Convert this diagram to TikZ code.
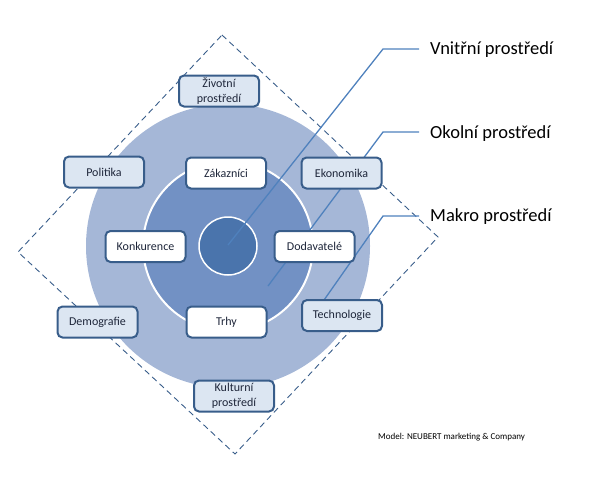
\documentclass[tikz,border=0pt]{standalone}
\usepackage{fontspec}
\setmainfont{Carlito}

\definecolor{ringouter}{RGB}{165,183,215}
\definecolor{ringmiddle}{RGB}{114,145,196}
\definecolor{ringinner}{RGB}{74,116,172}
\definecolor{boxfill}{RGB}{220,230,242}
\definecolor{boxline}{RGB}{56,93,138}
\definecolor{calloutline}{RGB}{79,129,189}
\definecolor{boxtext}{RGB}{30,38,58}

\tikzset{
    factor/.style={draw=boxline, line width=2pt, rounded corners=5pt,
        minimum width=80pt, minimum height=31pt, inner sep=0pt,
        align=center, text=boxtext, font=\fontsize{12}{15}\selectfont},
    macrobox/.style={factor, fill=boxfill},
    microbox/.style={factor, fill=white},
    ring/.style={circle, inner sep=0pt},
    callout/.style={draw=calloutline, line width=1.3pt},
    layerlabel/.style={anchor=base west, inner sep=0pt,
        font=\fontsize{18.5}{20}\selectfont}
}

\begin{document}
\begin{tikzpicture}[x=1pt, y=-1pt]
        \useasboundingbox (0, 0) rectangle (593, 477);
        \pgfmathsetmacro\cx{228};
        \pgfmathsetmacro\cy{246};

        % dashed frame
        \draw[boxline, line width=0.9pt, dash pattern=on 6pt off 4pt]
            (222, 35) -- (438, 237) -- (235, 454) -- (18, 252) -- cycle;

        % rings
        \node[ring, fill=ringouter, minimum size=284pt] (outer ring)
            at (\cx, \cy) {};
        \node[ring, fill=ringmiddle, draw=white, line width=2pt,
            minimum size=170pt] (middle ring) at (\cx, \cy) {};
        \node[ring, fill=ringinner, draw=white, line width=1.5pt,
            minimum size=58pt] (core) at (\cx, \cy) {};

        % labels on the right
        \node[layerlabel] (vnitrni) at (430, 54.5) {Vnitřní prostředí};
        \node[layerlabel] (okolni) at (430, 138) {Okolní prostředí};
        \node[layerlabel] (makro) at (430, 221) {Makro prostředí};

        \coordinate (vnitrni start) at (228, 245);
        \coordinate (vnitrni bend) at (383, 49);
        \coordinate (vnitrni end) at (419, 49);
        \draw[callout] (vnitrni start) -- (vnitrni bend) -- (vnitrni end);

        \coordinate (okolni start) at (268, 286);
        \coordinate (okolni bend) at (383, 132);
        \coordinate (okolni end) at (419, 132);
        \draw[callout] (okolni start) -- (okolni bend) -- (okolni end);

        \coordinate (makro start) at (310, 320);
        \coordinate (makro bend) at (383, 216);
        \coordinate (makro end) at (419, 216);
        \draw[callout] (makro start) -- (makro bend) -- (makro end);

        % okolni boxes
        \node[microbox] (zakaznici) at (226, 173) {Zákazníci};
        \node[microbox] (konkurence) at (145.5, 246.5) {Konkurence};
        \node[microbox] (dodavatele) at (314.5, 246.5) {Dodavatelé};
        \node[microbox] (trhy) at (226.5, 322) {Trhy};

        % makro boxes
        \node[macrobox] (zivotni) at (219, 91) {Životní\\prostředí};
        \node[macrobox] (politika) at (104, 172) {Politika};
        \node[macrobox] (ekonomika) at (341.5, 173) {Ekonomika};
        \node[macrobox] (demografie) at (97.5, 322) {Demografie};
        \node[macrobox] (technologie) at (342, 315.5) {Technologie};
        \node[macrobox] (kulturni) at (234, 396) {Kulturní\\prostředí};

        % source
        \node[anchor=base west, inner sep=0pt, font=\fontsize{9}{10}\selectfont]
            (zdroj) at (378, 439) {Model: NEUBERT marketing \& Company};
    \end{tikzpicture}
\end{document}
